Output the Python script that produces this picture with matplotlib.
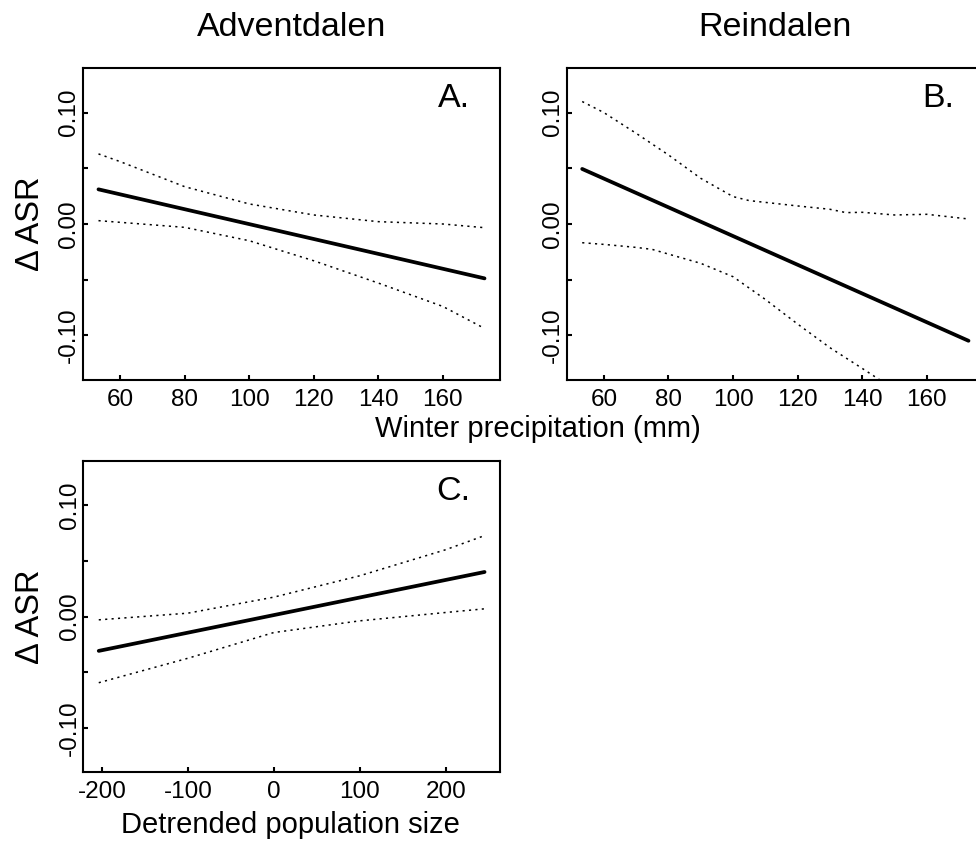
import matplotlib
matplotlib.use("Agg")
import matplotlib.pyplot as plt

plt.rcParams['font.family'] = ['Liberation Sans', 'DejaVu Sans']

# Panel A - Adventdalen, winter precipitation
a_x = [53.3, 60, 80, 100, 120, 140, 160, 172.9]
a_upper = [0.0629, 0.056, 0.0335, 0.018, 0.0081, 0.0021, 0.0, -0.0033]
a_lower = [0.003, 0.0015, -0.003, -0.015, -0.033, -0.053, -0.074, -0.0937]
a_fit_x = [53.3, 172.9]
a_fit = [0.0311, -0.0488]

# Panel B - Reindalen, winter precipitation
b_x = [53.3, 60, 70, 80, 90, 100, 105, 120, 130, 135, 140, 150, 160, 172.9]
b_upper = [0.1099, 0.100, 0.0814, 0.062, 0.041, 0.0246, 0.021, 0.0162,
           0.0132, 0.0102, 0.0105, 0.0081, 0.0087, 0.0045]
b_lx = [53.3, 60, 70, 75, 80, 90, 100, 110, 120, 130, 140, 145.5, 160, 172.9]
b_lower = [-0.0168, -0.0183, -0.021, -0.0228, -0.027, -0.0353, -0.0473,
           -0.0677, -0.0898, -0.111, -0.1296, -0.140, -0.165, -0.185]
b_fit_x = [53.3, 172.9]
b_fit = [0.0494, -0.1048]

# Panel C - detrended population size
c_x = [-203.9, -100, 0, 100, 200, 245.3]
c_upper = [-0.003, 0.003, 0.0174, 0.0366, 0.060, 0.0727]
c_lower = [-0.0595, -0.0375, -0.0144, -0.0039, 0.0036, 0.0069]
c_fit_x = [-203.9, 245.3]
c_fit = [-0.0309, 0.040]

prec_ticks = [60, 80, 100, 120, 140, 160]
pop_ticks = [-200, -100, 0, 100, 200]
y_ticks = [-0.10, -0.05, 0.00, 0.05, 0.10]
y_labels = ['-0.10', '', '0.00', '', '0.10']

W, H = 976, 843
fig = plt.figure(figsize=(W / 100, H / 100), dpi=100)


def px_axes(left, top, right, bottom):
    return fig.add_axes([left / W, 1 - bottom / H, (right - left) / W, (bottom - top) / H])


def style(ax, xlim, xticks, letter):
    ax.set_xlim(*xlim)
    ax.set_ylim(-0.14, 0.14)
    ax.set_xticks(xticks)
    ax.set_xticklabels([str(t) for t in xticks])
    ax.set_yticks(y_ticks)
    ax.set_yticklabels(y_labels, rotation=90, va='center')
    ax.tick_params(axis='both', direction='in', length=3.6, width=1.5,
                   labelsize=17.5)
    ax.tick_params(axis='x', pad=6.5)
    ax.tick_params(axis='y', pad=2)
    for s in ax.spines.values():
        s.set_linewidth(1.5)
    ax.text(0.929, 0.875, letter, transform=ax.transAxes, ha='right',
            va='baseline', fontsize=24.5)


def draw(ax, x, up, lx, lo, fx, fy):
    ax.plot(fx, fy, color='black', lw=2.7, solid_capstyle='round')
    ax.plot(x, up, color='black', lw=1.1, dashes=(1.4, 2.8))
    ax.plot(lx, lo, color='black', lw=1.1, dashes=(1.4, 2.8))


axA = px_axes(83, 68, 500, 380)
draw(axA, a_x, a_upper, a_x, a_lower, a_fit_x, a_fit)
style(axA, (48.5, 177.7), prec_ticks, 'A.')

axB = px_axes(566.7, 68, 984, 380)
draw(axB, b_x, b_upper, b_lx, b_lower, b_fit_x, b_fit)
style(axB, (48.5, 177.7), prec_ticks, 'B.')

axC = px_axes(83.3, 460.7, 500, 772.3)
draw(axC, c_x, c_upper, c_x, c_lower, c_fit_x, c_fit)
style(axC, (-221.9, 263.3), pop_ticks, 'C.')

for ax in (axA, axC):
    ax.set_ylabel('\u0394 ASR', fontsize=23.5, va='center')
    ax.yaxis.set_label_coords(-0.127, 0.5)

fig.text(291.5 / W, 1 - 36 / H, 'Adventdalen', ha='center', va='baseline', fontsize=24.5)
fig.text(775 / W, 1 - 36 / H, 'Reindalen', ha='center', va='baseline', fontsize=24.5)
fig.text(538 / W, 1 - 437 / H, 'Winter precipitation (mm)', ha='center',
         va='baseline', fontsize=21)
fig.text(290.7 / W, 1 - 833 / H, 'Detrended population size', ha='center',
         va='baseline', fontsize=21)

fig.savefig('out.png', dpi=100)
